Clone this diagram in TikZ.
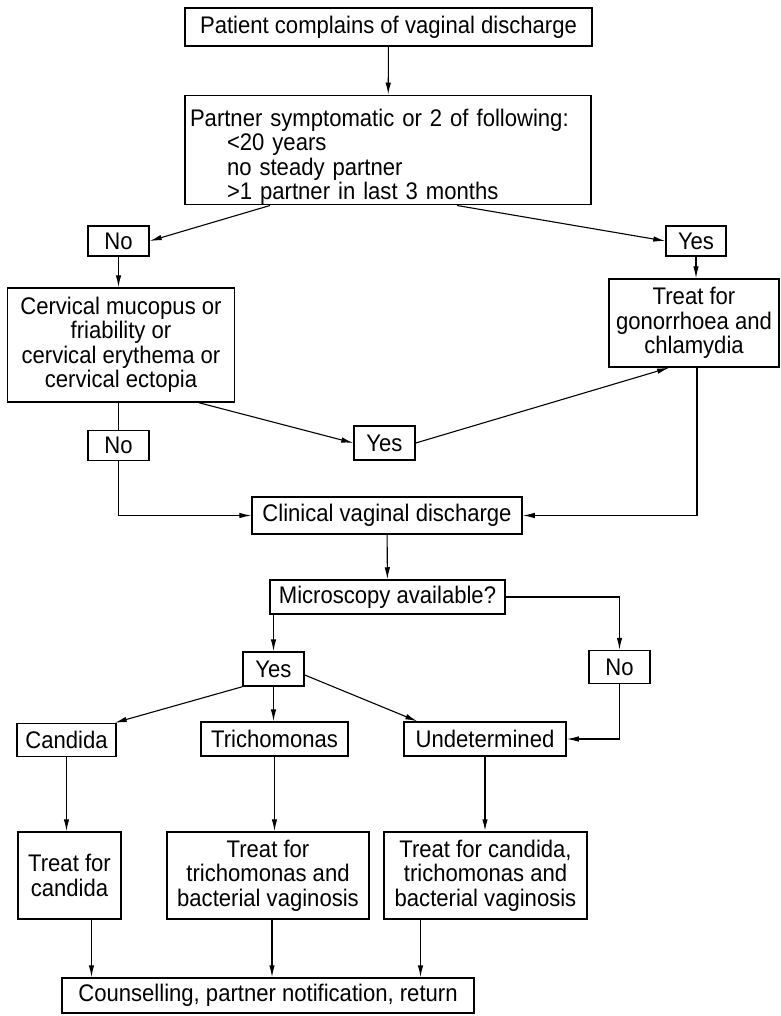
\documentclass[tikz,border=0pt]{standalone}
\usepackage{fontspec}
\setmainfont{Liberation Sans}[FakeStretch=0.92]
\usetikzlibrary{arrows.meta,positioning,calc}
\tikzset{
  box/.style={draw, line width=1.5pt, inner sep=0pt, align=center,
    font=\fontsize{24}{24.5}\selectfont},
  flow/.style={line width=1.1pt, -{Latex[length=12pt,width=5.5pt]}},
  link/.style={line width=1.1pt},
}
\begin{document}
\begin{tikzpicture}[x=1pt,y=-1pt]
\useasboundingbox (0,0) rectangle (780,1016);
\node[box, minimum width=407pt, minimum height=38pt] (patient) at (388.5,27) {Patient complains of vaginal discharge};
\node[box, minimum width=406pt, minimum height=108pt, text width=396pt, align=left] (crit) at (388,150)
  {\rule{0pt}{31pt}Partner symptomatic or 2 of following:\\
   \hspace*{37pt}<20 years\\
   \hspace*{37pt}no steady partner\\
   \hspace*{37pt}>1 partner in last 3 months};
\node[box, minimum width=61pt, minimum height=30pt] (no1) at (118.5,241) {No};
\node[box, minimum width=60pt, minimum height=30pt] (yes1) at (696,241) {Yes};
\node[box, minimum width=227pt, minimum height=114pt] (cerv) at (121,345)
  {Cervical mucopus or\\friability or\\cervical erythema or\\cervical ectopia};
\node[box, minimum width=170pt, minimum height=88pt] (gono) at (694,323)
  {Treat for\\gonorrhoea and\\chlamydia};
\node[box, minimum width=61pt, minimum height=34pt] (yes2) at (384.5,443) {Yes};
\node[box, minimum width=61pt, minimum height=30pt] (no2) at (118.5,445.5) {No};
\node[box, minimum width=270pt, minimum height=37pt] (clin) at (387,515.5) {Clinical vaginal discharge};
\node[box, minimum width=235pt, minimum height=34pt] (micro) at (387.5,597) {Microscopy available?};
\node[box, minimum width=61pt, minimum height=34pt] (yes3) at (273.5,669) {Yes};
\node[box, minimum width=61pt, minimum height=33pt] (no3) at (619.5,667) {No};
\node[box, minimum width=99pt, minimum height=33pt] (cand) at (66.5,740) {Candida};
\node[box, minimum width=147pt, minimum height=34pt] (trich) at (274.5,739) {Trichomonas};
\node[box, minimum width=162pt, minimum height=34pt] (undet) at (485,739) {Undetermined};
\node[box, minimum width=103pt, minimum height=87pt] (tcand) at (69.5,875.5) {Treat for\\candida};
\node[box, minimum width=202pt, minimum height=87pt] (ttrich) at (268,875.5)
  {Treat for\\trichomonas and\\bacterial vaginosis};
\node[box, minimum width=203pt, minimum height=87pt] (tall) at (485.5,875.5)
  {Treat for candida,\\trichomonas and\\bacterial vaginosis};
\node[box, minimum width=412pt, minimum height=35pt] (couns) at (268,995.5)
  {Counselling, partner notification, return};
\coordinate (tc) at ([xshift=22pt]tcand.south);
\coordinate (tt) at ([xshift=4pt]ttrich.south);
\coordinate (ta) at ([xshift=-65pt]tall.south);
\draw[flow] (patient) -- (crit);
\draw[flow] ([xshift=-118pt]crit.south) -- (no1.east);
\draw[flow] ([xshift=69pt]crit.south) -- (yes1.west);
\draw[flow] (no1) -- (no1 |- cerv.north);
\draw[flow] (yes1) -- (yes1 |- gono.north);
\draw[flow] ([xshift=78pt]cerv.south) -- (yes2.west);
\draw[flow] (yes2.east) -- ([xshift=-25pt]gono.south);
\draw[link] (no2 |- cerv.south) -- (no2.north);
\draw[flow] (no2.south) |- (clin.west);
\draw[flow] ([xshift=3pt]gono.south) |- (clin.east);
\draw[flow] (clin) -- (micro);
\draw[flow] (yes3 |- micro.south) -- (yes3.north);
\draw[flow] (micro.east) -| (no3.north);
\draw[flow] (no3.south) |- (undet.east);
\draw[flow] (yes3.south west) -- ([xshift=-2pt]cand.north east);
\draw[flow] (yes3) -- (yes3 |- trich.north);
\draw[flow] ([yshift=-6pt]yes3.east) -- ([xshift=14pt]undet.north west);
\draw[flow] (cand.south) -- (cand.south |- tcand.north);
\draw[flow] (trich) -- (trich |- ttrich.north);
\draw[flow, line width=1.5pt] (undet) -- (undet |- tall.north);
\draw[flow] (tc) -- (tc |- couns.north);
\draw[flow] (tt) -- (tt |- couns.north);
\draw[flow] (ta) -- (ta |- couns.north);
\end{tikzpicture}
\end{document}
